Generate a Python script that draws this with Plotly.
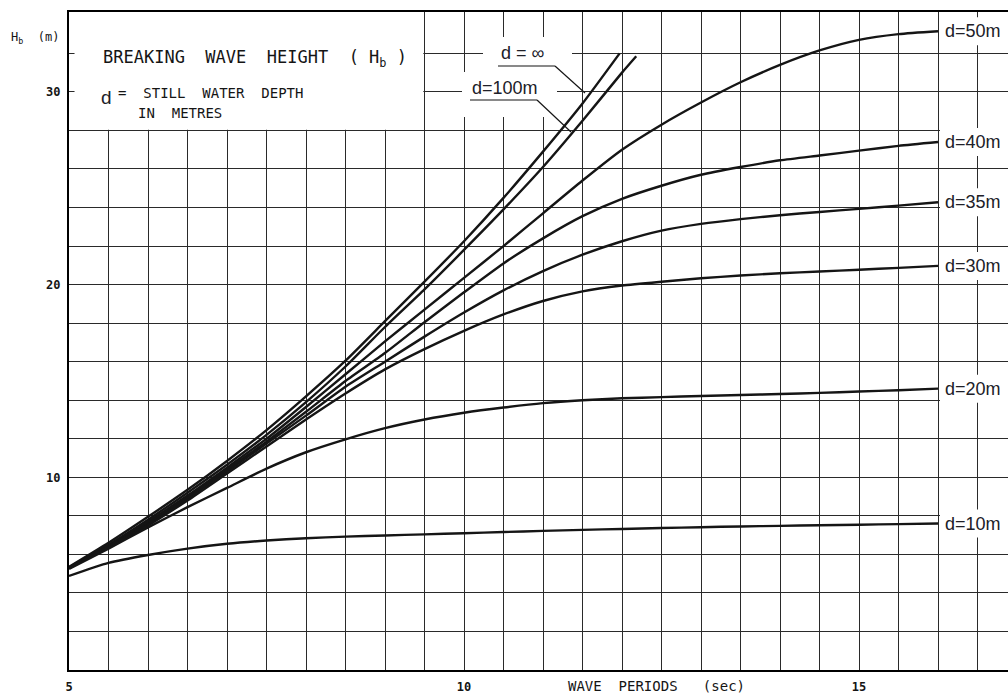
import plotly.graph_objects as go

# ---------------- data ----------------
# wave period T (s) grid used for the finite-depth curves
T_grid = [5, 5.5, 6, 6.5, 7, 7.5, 8, 8.5, 9, 9.5, 10, 10.5, 11, 11.5,
          12, 12.5, 13, 13.5, 14, 14.5, 15, 15.5, 16]

# d = infinity (deep water)
T_inf = [5, 5.5, 6, 6.5, 7, 7.5, 8, 8.5, 9, 9.5, 10, 10.5, 11, 11.5, 11.97]
H_inf = [5.35, 6.6, 7.95, 9.35, 10.85, 12.45, 14.2, 16.05, 18.1, 20.15,
         22.25, 24.5, 26.9, 29.4, 32.0]

# d = 100 m
T_100 = [5, 5.5, 6, 6.5, 7, 7.5, 8, 8.5, 9, 9.5, 10, 10.5, 11, 11.5, 12, 12.18]
H_100 = [5.33, 6.5, 7.8, 9.2, 10.65, 12.2, 13.9, 15.75, 17.8, 19.75, 21.8,
         23.9, 26.1, 28.5, 31.0, 31.85]

H_50 = [5.3, 6.45, 7.7, 9.05, 10.5, 12.0, 13.65, 15.35, 17.05, 18.7, 20.35,
        22.0, 23.7, 25.4, 27.0, 28.3, 29.45, 30.5, 31.4, 32.15, 32.7, 33.0, 33.15]
H_40 = [5.3, 6.4, 7.6, 8.95, 10.4, 11.85, 13.4, 15.0, 16.45, 18.05, 19.6,
        21.1, 22.4, 23.55, 24.45, 25.13, 25.7, 26.1, 26.45, 26.7, 26.95, 27.2, 27.4]
H_35 = [5.3, 6.4, 7.55, 8.9, 10.3, 11.75, 13.2, 14.7, 16.0, 17.3, 18.55,
        19.7, 20.7, 21.55, 22.25, 22.8, 23.15, 23.4, 23.6, 23.77, 23.93, 24.1, 24.27]
H_30 = [5.3, 6.35, 7.5, 8.8, 10.2, 11.6, 13.0, 14.35, 15.6, 16.65, 17.6,
        18.45, 19.15, 19.65, 19.95, 20.15, 20.33, 20.47, 20.59, 20.68, 20.77, 20.87, 20.97]
H_20 = [5.25, 6.3, 7.4, 8.45, 9.45, 10.45, 11.3, 11.97, 12.55, 13.0, 13.35,
        13.62, 13.85, 14.0, 14.1, 14.16, 14.22, 14.27, 14.32, 14.38, 14.45, 14.52, 14.6]
H_10 = [4.88, 5.56, 5.97, 6.3, 6.55, 6.72, 6.84, 6.92, 6.98, 7.04, 7.1,
        7.16, 7.22, 7.27, 7.32, 7.37, 7.41, 7.45, 7.48, 7.51, 7.54, 7.57, 7.6]

right_labels = ["d=50m", "d=40m", "d=35m", "d=30m", "d=20m", "d=10m"]

# axis ticks / grid
x_grid = [5 + 0.5 * i for i in range(24)]          # 5 ... 16.5
x_ticktext = ["5" if v == 5 else "10" if v == 10 else "15" if v == 15 else "" for v in x_grid]
y_grid = list(range(0, 34, 2))                      # 0 ... 32
y_ticktext = [str(v) if v in (10, 20, 30) else "" for v in y_grid]

# ---------------- figure ----------------
W, H = 1008, 693
ML, MR, MT, MB = 69, 0, 12, 23
PX_PER_S = 79.0
PX_PER_M = 19.27
x_max = 5 + (W - ML - MR) / PX_PER_S
y_max = (H - MT - MB) / PX_PER_M

INK = "#151515"
TXT = "#202028"
MONO = "DejaVu Sans Mono, monospace"
SANS = "Liberation Sans, Arial, sans-serif"

def px2t(px):
    return 5 + (px - ML) / PX_PER_S

def py2h(py):
    return (H - MB - py) / PX_PER_M

def px2paper(px):
    return (px - ML) / (W - ML - MR)

def py2paper(py):
    return (H - MB - py) / (H - MT - MB)

fig = go.Figure()
curve_line = dict(color=INK, width=2.4, shape="spline", smoothing=0.6)
series = [(T_inf, H_inf), (T_100, H_100), (T_grid, H_50), (T_grid, H_40),
          (T_grid, H_35), (T_grid, H_30), (T_grid, H_20), (T_grid, H_10)]
for tx, hy in series:
    fig.add_trace(go.Scatter(x=tx, y=hy, mode="lines", line=curve_line,
                             hoverinfo="skip", showlegend=False))

shapes = []
# title box (white, covers grid)
shapes.append(dict(type="rect", xref="x", yref="y", x0=5.07, x1=9.485, y0=28.04, y1=y_max,
                   fillcolor="white", line=dict(width=0), layer="between"))
# label backgrounds for d=inf and d=100m
shapes.append(dict(type="rect", xref="x", yref="y", x0=px2t(483), x1=px2t(572),
                   y0=py2h(72), y1=py2h(37), fillcolor="white", line=dict(width=0), layer="between"))
shapes.append(dict(type="rect", xref="x", yref="y", x0=px2t(462), x1=px2t(557),
                   y0=py2h(117), y1=py2h(72), fillcolor="white", line=dict(width=0), layer="between"))
# leader lines
lead = dict(color=INK, width=1.2)
shapes.append(dict(type="line", xref="x", yref="y", x0=px2t(498), y0=py2h(66),
                   x1=px2t(555), y1=py2h(66), line=lead, layer="above"))
shapes.append(dict(type="line", xref="x", yref="y", x0=px2t(555), y0=py2h(66),
                   x1=px2t(585), y1=py2h(93), line=lead, layer="above"))
shapes.append(dict(type="line", xref="x", yref="y", x0=px2t(470), y0=py2h(100),
                   x1=px2t(537), y1=py2h(100), line=lead, layer="above"))
shapes.append(dict(type="line", xref="x", yref="y", x0=px2t(537), y0=py2h(100),
                   x1=px2t(571), y1=py2h(132), line=lead, layer="above"))

annotations = []
# right-hand depth labels
for lab, hy in zip(right_labels, [H_50, H_40, H_35, H_30, H_20, H_10]):
    yv = hy[-1]
    shapes.append(dict(type="rect", xref="x", yref="y", x0=px2t(940), x1=x_max,
                       y0=yv - 14 / PX_PER_M, y1=yv + 14 / PX_PER_M,
                       fillcolor="white", line=dict(width=0), layer="between"))
    annotations.append(dict(x=px2t(943), y=yv, xref="x", yref="y", text=lab,
                            showarrow=False, xanchor="left", yanchor="middle",
                            font=dict(family=SANS, size=18, color=TXT)))

annotations.append(dict(x=px2t(499), y=py2h(53), xref="x", yref="y", text="d = ∞",
                        showarrow=False, xanchor="left", yanchor="middle",
                        font=dict(family=SANS, size=18, color=TXT)))
annotations.append(dict(x=px2t(470), y=py2h(88), xref="x", yref="y", text="d=100m",
                        showarrow=False, xanchor="left", yanchor="middle",
                        font=dict(family=SANS, size=18, color=TXT)))

# title box texts
annotations.append(dict(x=px2t(101), y=py2h(58), xref="x", yref="y",
                        text="BREAKING  WAVE  HEIGHT  ( H<sub>b</sub> )",
                        showarrow=False, xanchor="left", yanchor="middle",
                        font=dict(family=MONO, size=17, color=INK)))
annotations.append(dict(x=px2t(99), y=py2h(97), xref="x", yref="y", text="d",
                        showarrow=False, xanchor="left", yanchor="middle",
                        font=dict(family=SANS, size=19, color=TXT)))
annotations.append(dict(x=px2t(116), y=py2h(93), xref="x", yref="y",
                        text="=  STILL  WATER  DEPTH",
                        showarrow=False, xanchor="left", yanchor="middle",
                        font=dict(family=MONO, size=14, color=INK)))
annotations.append(dict(x=px2t(136), y=py2h(113), xref="x", yref="y",
                        text="IN  METRES",
                        showarrow=False, xanchor="left", yanchor="middle",
                        font=dict(family=MONO, size=14, color=INK)))
# axis titles
annotations.append(dict(x=px2paper(566), y=py2paper(686), xref="paper", yref="paper",
                        text="WAVE  PERIODS   (sec)", showarrow=False,
                        xanchor="left", yanchor="middle",
                        font=dict(family=MONO, size=14, color=INK)))
annotations.append(dict(x=px2paper(9), y=py2paper(38), xref="paper", yref="paper",
                        text="H<sub>b</sub>  (m)", showarrow=False,
                        xanchor="left", yanchor="middle",
                        font=dict(family=MONO, size=12, color=INK)))

grid_col = "#2a2a2a"
tick_font = dict(family=MONO, size=12, color=INK, weight="bold")
fig.update_layout(
    width=W, height=H, autosize=False,
    margin=dict(l=ML, r=MR, t=MT, b=MB, pad=0),
    paper_bgcolor="white", plot_bgcolor="white",
    showlegend=False,
    shapes=shapes, annotations=annotations,
    xaxis=dict(range=[5, x_max], tickmode="array", tickvals=x_grid, ticktext=x_ticktext,
               showgrid=True, gridcolor=grid_col, gridwidth=1.3, zeroline=False,
               showline=True, linecolor="#000", linewidth=2.2, mirror=True, ticks="",
               ticklabelstandoff=4, tickfont=tick_font, fixedrange=True),
    yaxis=dict(range=[0, y_max], tickmode="array", tickvals=y_grid, ticktext=y_ticktext,
               showgrid=True, gridcolor=grid_col, gridwidth=1.3, zeroline=False,
               showline=True, linecolor="#000", linewidth=2.2, ticks="",
               ticklabelstandoff=4, tickfont=tick_font, fixedrange=True),
)

fig.write_html("out.html", config={"displayModeBar": False},
               post_script="document.body.style.margin='0px';document.body.style.overflow='hidden';")
